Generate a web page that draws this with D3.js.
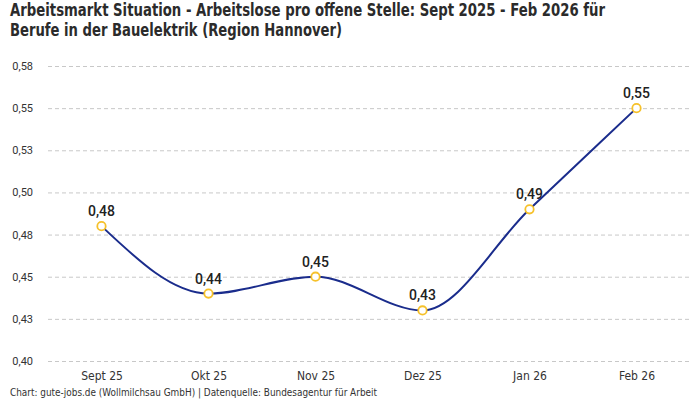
<!DOCTYPE html>
<html>
<head>
<meta charset="utf-8">
<script src="https://cdn.jsdelivr.net/npm/d3@7"></script>
<style>
  html, body { margin: 0; padding: 0; background: #fff; }
  svg { display: block; }
  .cond { font-family: "Liberation Sans Narrow", "DejaVu Sans Condensed", "Roboto", sans-serif; }
</style>
</head>
<body>
<svg id="chart" width="700" height="400"></svg>
<script>
  var months = ["Sept 25", "Okt 25", "Nov 25", "Dez 25", "Jan 26", "Feb 26"];
  var ratio = [0.48, 0.44, 0.45, 0.43, 0.49, 0.55];
  var yTicks = [0.40, 0.425, 0.45, 0.475, 0.50, 0.525, 0.55, 0.575];
  var titleLines = ["Arbeitsmarkt Situation - Arbeitslose pro offene Stelle: Sept 2025 - Feb 2026 für",
                    "Berufe in der Bauelektrik (Region Hannover)"];
  var titleWidths = [595, 332];
  var source = "Chart: gute-jobs.de (Wollmilchsau GmbH) | Datenquelle: Bundesagentur für Arbeit";

  var L = 48, R = 690, TOP = 66, BOT = 361;
  // round half up, so 0.425 -> "0,43" like the original
  var fmt = function (v) { return (Math.round(v * 100 + 1e-6) / 100).toFixed(2).replace(".", ","); };

  var svg = d3.select("#chart");
  var x = d3.scalePoint().domain(months).range([L, R]).padding(0.5);
  var y = d3.scaleLinear().domain([0.40, 0.575]).range([BOT, TOP]);

  // title
  svg.append("g").selectAll("text").data(titleLines).enter().append("text")
    .attr("class", "cond").attr("x", 10).attr("y", function (d, i) { return 16 + i * 20; })
    .attr("font-size", 17).attr("font-weight", "bold").attr("fill", "#2b2b2b")
    .attr("textLength", function (d, i) { return titleWidths[i]; }).attr("lengthAdjust", "spacingAndGlyphs")
    .text(function (d) { return d; });

  // grid + y labels
  var yAxis = d3.axisLeft(y).tickValues(yTicks).tickSize(-(R - L)).tickFormat(fmt).tickPadding(15);
  var gy = svg.append("g").attr("transform", "translate(" + L + ",0)").call(yAxis);
  gy.select(".domain").remove();
  gy.selectAll(".tick line").attr("stroke", "#c8c8c8").attr("stroke-dasharray", "4,3");
  gy.selectAll(".tick text").attr("font-family", "Roboto, sans-serif").attr("font-size", 11).attr("fill", "#333");

  // x labels
  var gx = svg.append("g").attr("transform", "translate(0," + BOT + ")").call(d3.axisBottom(x).tickSize(0).tickPadding(10));
  gx.select(".domain").remove();
  gx.selectAll(".tick text").attr("class", "cond").attr("font-family", null).attr("font-size", 12).attr("fill", "#333");

  var pts = months.map(function (m, i) { return [x(m), y(ratio[i])]; });

  svg.append("path").datum(pts)
    .attr("d", d3.line().curve(d3.curveMonotoneX))
    .attr("fill", "none").attr("stroke", "#1a2c8c").attr("stroke-width", 2);

  svg.append("g").selectAll("circle").data(pts).enter().append("circle")
    .attr("cx", function (d) { return d[0]; }).attr("cy", function (d) { return d[1]; })
    .attr("r", 4.2).attr("fill", "#fff").attr("stroke", "#f6c12a").attr("stroke-width", 1.8);

  svg.append("g").selectAll("text").data(pts).enter().append("text")
    .attr("x", function (d) { return d[0]; }).attr("y", function (d) { return d[1] - 10; })
    .attr("text-anchor", "middle").attr("font-family", "Roboto, sans-serif").attr("font-weight", 500)
    .attr("font-size", 14).attr("fill", "#222")
    .text(function (d, i) { return fmt(ratio[i]); });

  svg.append("text").attr("class", "cond").attr("x", 10).attr("y", 396)
    .attr("font-size", 10.5).attr("fill", "#333")
    .attr("textLength", 367).attr("lengthAdjust", "spacingAndGlyphs").text(source);
</script>
</body>
</html>
